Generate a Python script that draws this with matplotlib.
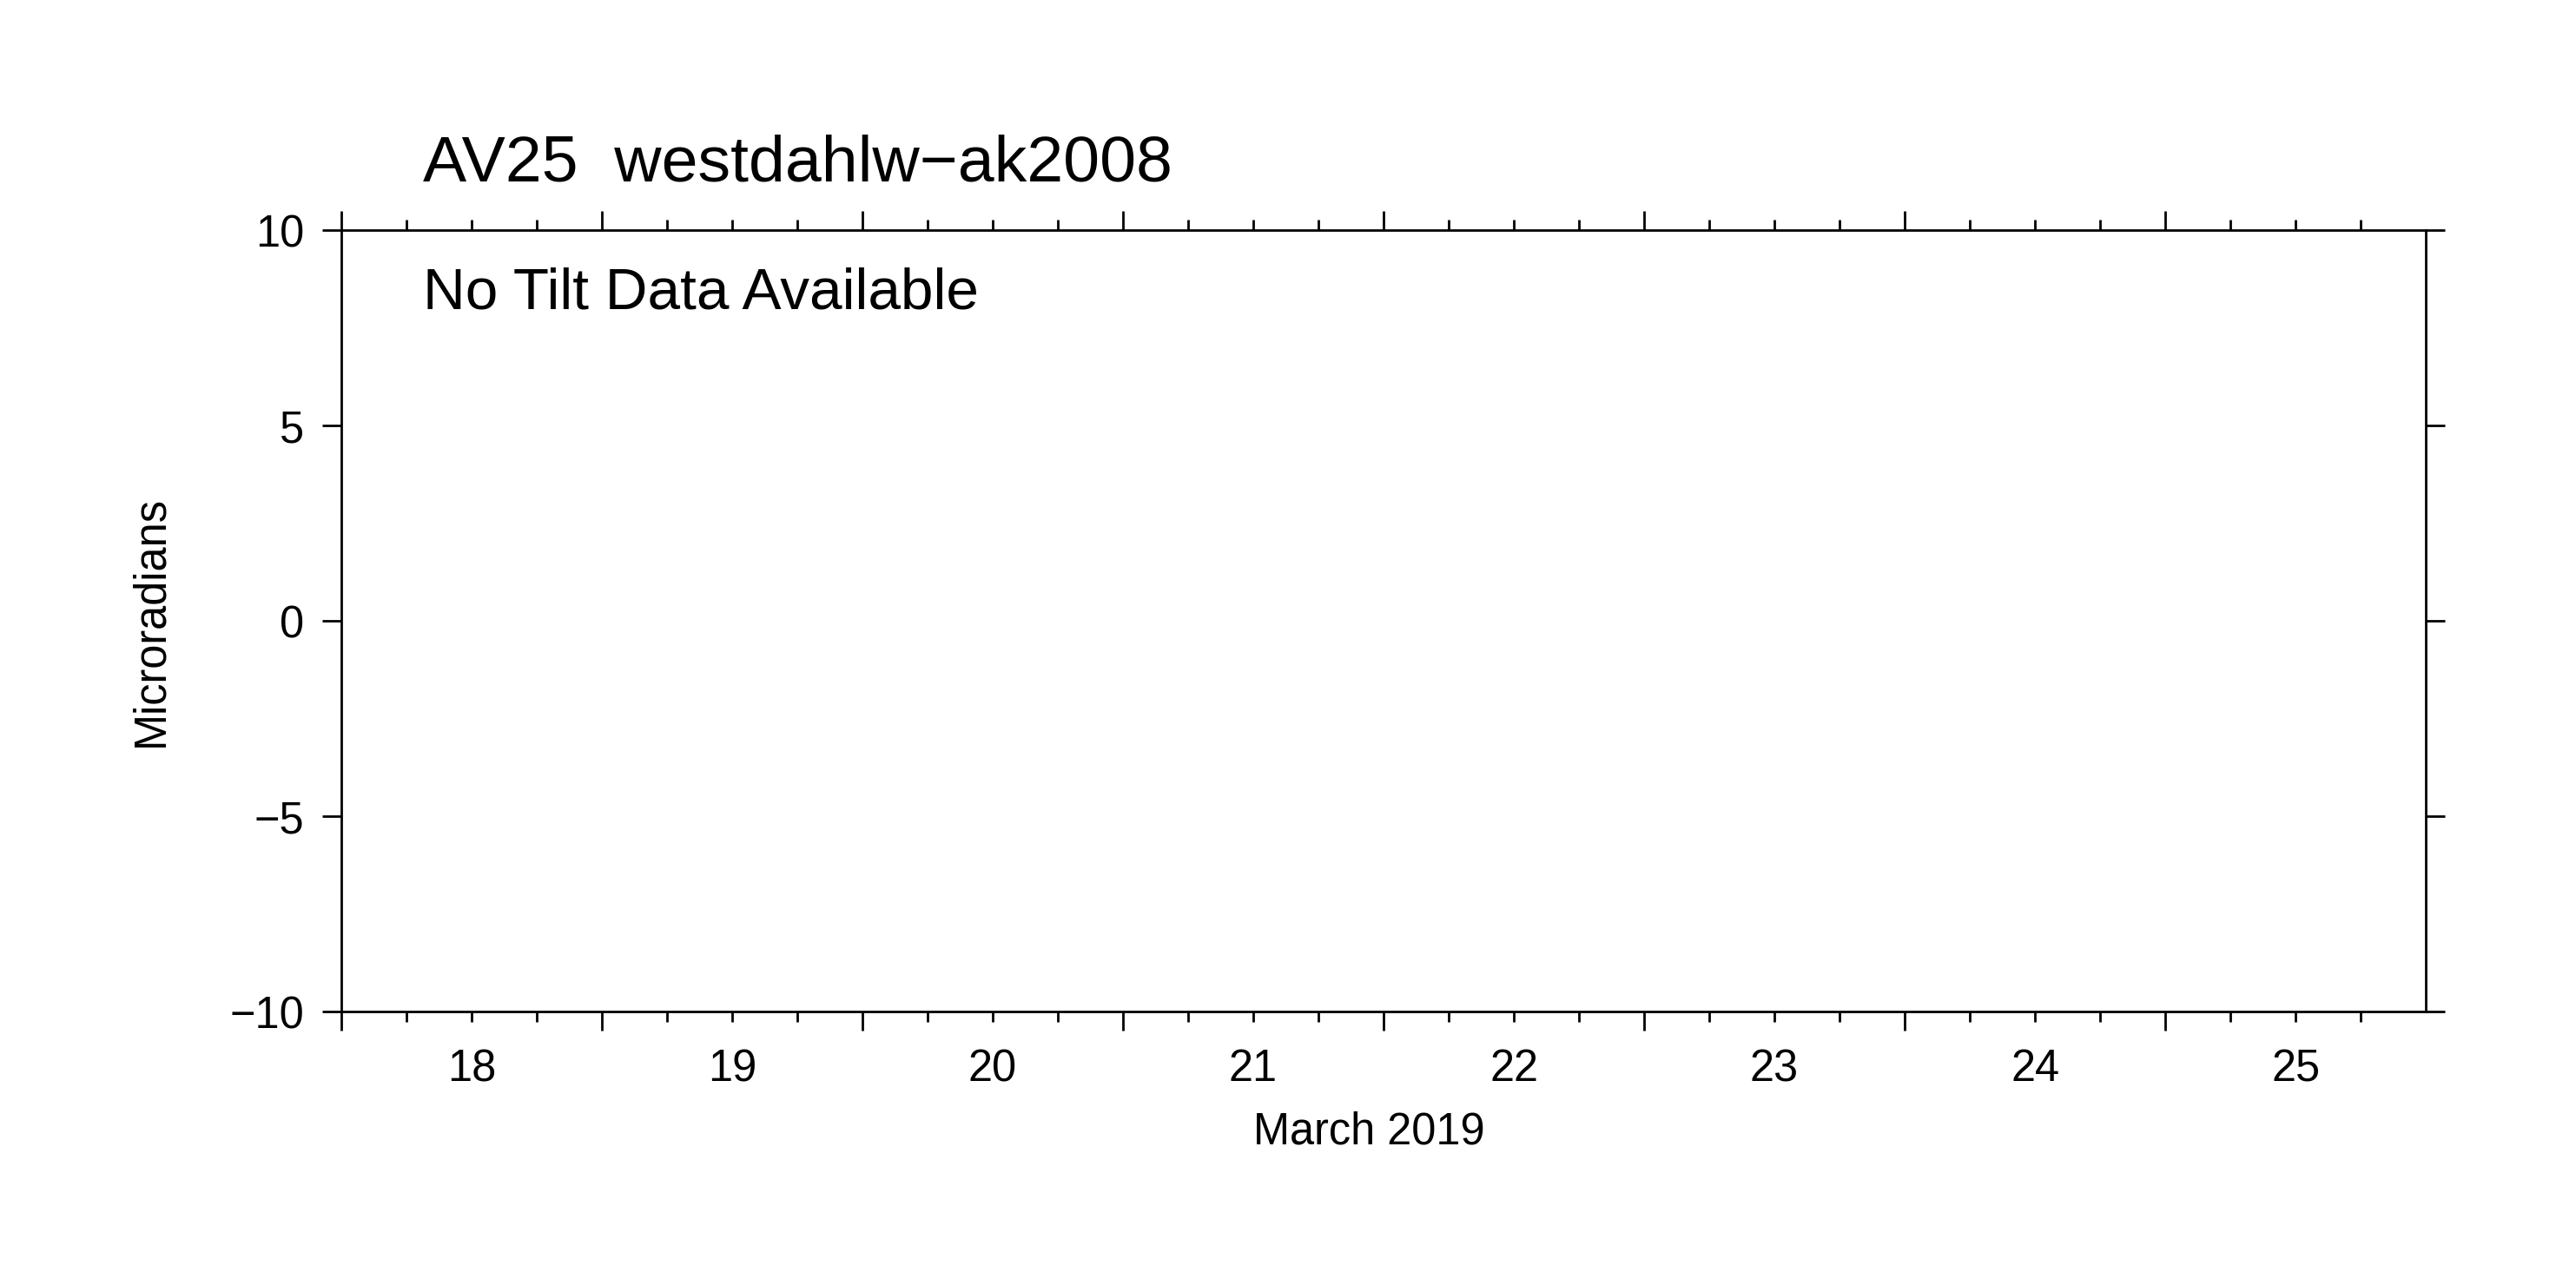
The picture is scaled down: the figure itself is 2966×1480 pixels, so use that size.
"""Empty tilt panel: AV25 westdahlw-ak2008, March 2019."""

from datetime import datetime, timedelta

import matplotlib.pyplot as plt

plt.rcParams["font.family"] = ["Liberation Sans", "DejaVu Sans"]
plt.rcParams["axes.unicode_minus"] = True

STATION = "AV25"
SITE = "westdahlw\u2212ak2008"
MESSAGE = "No Tilt Data Available"
YEAR = 2019
MONTH = 3
MONTH_NAME = "March"
DAYS = [18, 19, 20, 21, 22, 23, 24, 25]
MINOR_HOURS = [6, 12, 18]
Y_TICKS = [-10, -5, 0, 5, 10]
Y_LABEL = "Microradians"

LW = 1.0


def main() -> None:
    fig = plt.figure(figsize=(14.83, 7.40), dpi=200)
    ax = fig.add_axes([0.1325, 0.2128, 0.8092, 0.6081])

    day_starts = [datetime(YEAR, MONTH, d) for d in DAYS]
    ax.set_xlim(day_starts[0], day_starts[-1] + timedelta(days=1))
    ax.set_ylim(Y_TICKS[0], Y_TICKS[-1])

    # 6-hourly minor ticks, the day number sits on the noon one
    minor_pos = []
    minor_lab = []
    for d, start in zip(DAYS, day_starts):
        for h in MINOR_HOURS:
            minor_pos.append(start + timedelta(hours=h))
            minor_lab.append(str(d) if h == 12 else "")

    ax.set_xticks(day_starts, labels=[""] * len(day_starts))
    ax.set_xticks(minor_pos, labels=minor_lab, minor=True)
    ax.set_yticks(Y_TICKS, labels=[f"{v:d}".replace("-", "\u2212") for v in Y_TICKS])

    for side in ax.spines.values():
        side.set_linewidth(LW)

    ax.tick_params(axis="both", which="both", direction="out", width=LW,
                   top=True, right=True, labeltop=False, labelright=False,
                   labelsize=18.2, colors="black")
    ax.tick_params(axis="x", which="major", length=7.9, pad=0)
    ax.tick_params(axis="x", which="minor", length=4.3, pad=10.8)
    ax.tick_params(axis="y", which="major", length=7.9, pad=7.6)

    ax.text(0.039, 1.063, f"{STATION}  {SITE}", transform=ax.transAxes,
            fontsize=27.1, ha="left", va="baseline")
    ax.text(0.039, 0.899, MESSAGE, transform=ax.transAxes,
            fontsize=24.3, ha="left", va="baseline")
    ax.text(0.493, -0.169, f"{MONTH_NAME} {YEAR}", transform=ax.transAxes,
            fontsize=18.2, ha="center", va="baseline")
    ax.text(-0.0858, 0.5, Y_LABEL, transform=ax.transAxes, fontsize=18.2,
            rotation=90, rotation_mode="anchor", ha="center", va="baseline")

    fig.savefig("out.png", dpi=200, facecolor="white")
    plt.close(fig)


if __name__ == "__main__":
    main()
